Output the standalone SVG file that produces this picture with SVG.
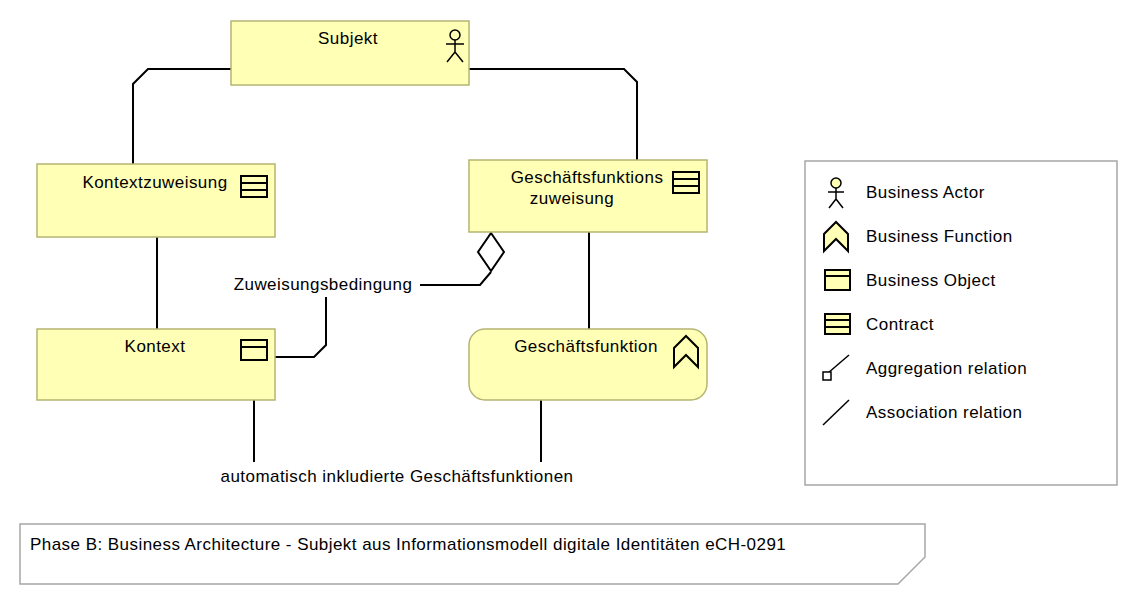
<svg xmlns="http://www.w3.org/2000/svg" width="1138" height="606" viewBox="0 0 1138 606">
<style>
.n{fill:#ffffb5;stroke:#b5b573;stroke-width:1.5}
.t{font-family:"Liberation Sans",Arial,sans-serif;font-size:17px;letter-spacing:0.45px;fill:#000}
.i{fill:none;stroke:#000;stroke-width:2}
.c{fill:none;stroke:#000;stroke-width:2}
</style>
<rect width="1138" height="606" fill="#fff"/>
<g id="connectors">
<path class="c" d="M231,69 H148 L133,84 V164"/>
<path class="c" d="M469,69 H624 L637,82 V160"/>
<path class="c" d="M157,237 V329"/>
<path class="c" d="M589,232 V329"/>
<path class="c" d="M491,272 L480,285 H420"/>
<path class="c" d="M326,297 V345 L314,357 H275"/>
<path d="M491,233 L504,252 L491,271 L478,252 Z" fill="#fff" stroke="#000" stroke-width="2"/>
<text class="t" x="323" y="290" text-anchor="middle">Zuweisungsbedingung</text>
<path class="c" d="M254,400 V462 M541,400 V462"/>
<text class="t" x="397" y="482" text-anchor="middle">automatisch inkludierte Geschäftsfunktionen</text>
</g>
<g id="subjekt">
<rect class="n" x="231" y="21" width="238" height="64"/>
<text class="t" x="348" y="44" text-anchor="middle">Subjekt</text>
<circle cx="455" cy="35" r="5" fill="none" stroke="#000" stroke-width="1.5"/>
<path d="M455,40 V52 M446,44 H464 M455,52 L447,62 M455,52 L463,62" fill="none" stroke="#000" stroke-width="1.5"/>
</g>
<g id="kontextzuweisung">
<rect class="n" x="37" y="164" width="238" height="73"/>
<text class="t" x="155" y="188" text-anchor="middle">Kontextzuweisung</text>
<rect class="i" x="241" y="176" width="26" height="21"/>
<path class="i" d="M241,183 H267 M241,190 H267"/>
</g>
<g id="gfz">
<rect class="n" x="469" y="160" width="238" height="72"/>
<text class="t" x="587" y="183" text-anchor="middle">Geschäftsfunktions</text>
<text class="t" x="572" y="204" text-anchor="middle">zuweisung</text>
<rect class="i" x="673" y="172" width="26" height="21"/>
<path class="i" d="M673,179 H699 M673,186 H699"/>
</g>
<g id="kontext">
<rect class="n" x="37" y="329" width="238" height="71"/>
<text class="t" x="155" y="352" text-anchor="middle">Kontext</text>
<rect class="i" x="241" y="340" width="26" height="20"/>
<path class="i" d="M241,347 H267"/>
</g>
<g id="gf">
<rect class="n" x="469" y="329" width="238" height="71" rx="16"/>
<text class="t" x="586" y="352" text-anchor="middle">Geschäftsfunktion</text>
<path class="i" d="M674,348 L686,336 L698,348 V367 L686,355 L674,367 Z"/>
</g>
<g id="legend">
<rect x="805" y="161" width="312" height="324" fill="#fff" stroke="#a6a6a6" stroke-width="1.5"/>
<circle cx="836" cy="183" r="5" fill="#ffffb5" stroke="#000" stroke-width="1.5"/>
<path d="M836,188 V199 M828,192 H844 M836,199 L829,208 M836,199 L843,208" fill="none" stroke="#000" stroke-width="1.5"/>
<text class="t" x="866" y="198">Business Actor</text>
<path d="M824,234 L836,222 L848,234 V251 L836,239 L824,251 Z" fill="#ffffb5" stroke="#000" stroke-width="2"/>
<text class="t" x="866" y="242">Business Function</text>
<rect x="825" y="270" width="25" height="20" fill="#ffffb5" stroke="#000" stroke-width="2"/>
<path class="i" d="M825,276 H850"/>
<text class="t" x="866" y="286">Business Object</text>
<rect x="825" y="314" width="25" height="20" fill="#ffffb5" stroke="#000" stroke-width="2"/>
<path class="i" d="M825,320 H850 M825,327 H850"/>
<text class="t" x="866" y="330">Contract</text>
<path d="M828,373 L849,355" stroke="#000" stroke-width="1.5"/>
<rect x="823" y="372" width="8" height="8" fill="#fff" stroke="#000" stroke-width="1.5"/>
<text class="t" x="866" y="374">Aggregation relation</text>
<path d="M823,425 L849,400" stroke="#000" stroke-width="1.5"/>
<text class="t" x="866" y="418">Association relation</text>
</g>
<g id="note">
<path d="M20,524 H925 V557 L898,584 H20 Z" fill="#fff" stroke="#a6a6a6" stroke-width="1.5"/>
<text class="t" x="30" y="550">Phase B: Business Architecture - Subjekt aus Informationsmodell digitale Identitäten eCH-0291</text>
</g>
</svg>
